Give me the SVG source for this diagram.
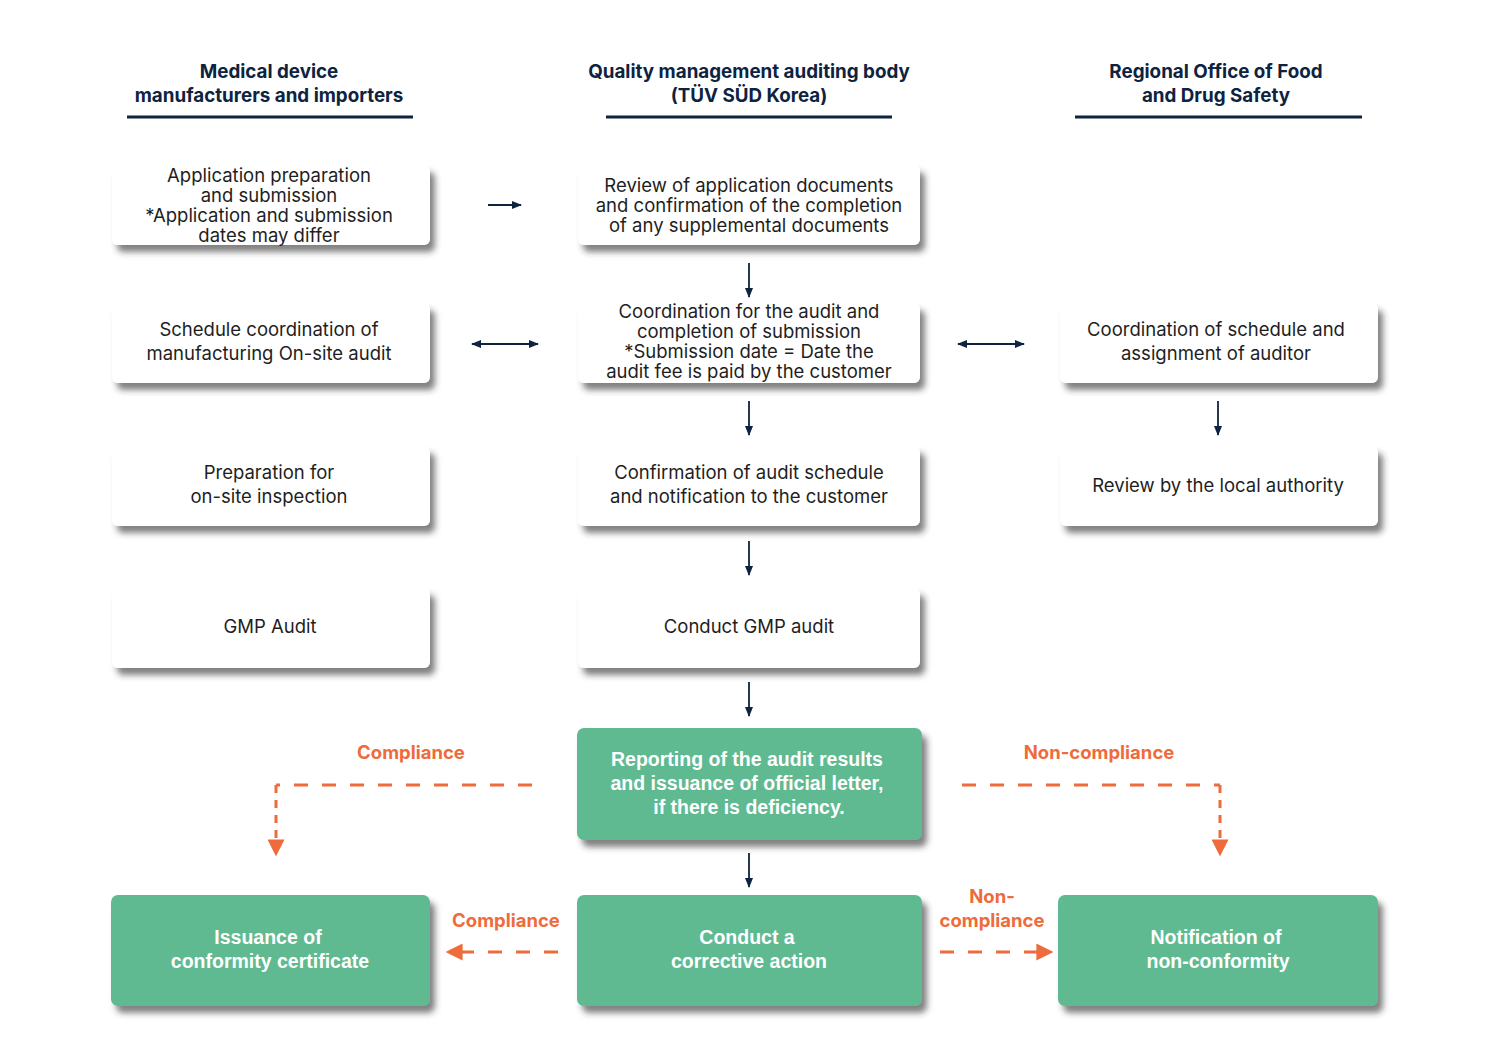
<svg xmlns="http://www.w3.org/2000/svg" width="1489" height="1050" viewBox="0 0 1489 1050">
<defs>
<filter id="sh" x="-10%" y="-20%" width="125%" height="150%">
<feDropShadow dx="5" dy="7" stdDeviation="3" flood-color="#2e2e2e" flood-opacity="0.6"/>
</filter>
<marker id="ah" viewBox="0 0 10 10" refX="9" refY="5" markerWidth="10" markerHeight="10" markerUnits="userSpaceOnUse" orient="auto-start-reverse">
<path d="M0,1 L10,5 L0,9 Z" fill="#0d2340"/>
</marker>
<marker id="oh" viewBox="0 0 10 10" refX="8" refY="5" markerWidth="17" markerHeight="17" markerUnits="userSpaceOnUse" orient="auto-start-reverse">
<path d="M0,0 L10,5 L0,10 Z" fill="#ee6b3c"/>
</marker>
</defs>
<style>
.hd{font-family:"Inter","Liberation Sans",sans-serif;font-weight:700;font-size:18.8px;fill:#0d2340;text-anchor:middle}
.ul{stroke:#0d2340;stroke-width:3}
.wb{fill:#ffffff;filter:url(#sh)}
.gb{fill:#5eba91;filter:url(#sh)}
.t{font-family:"Inter","Liberation Sans",sans-serif;font-size:18.5px;fill:#1e1e1e;text-anchor:middle}
.gt{font-family:"Liberation Sans",sans-serif;font-weight:700;font-size:19.5px;fill:#ffffff;text-anchor:middle}
.ol{font-family:"Inter","Liberation Sans",sans-serif;font-weight:700;font-size:18.5px;fill:#ee6b3c;text-anchor:middle}
.c{stroke:#0d2340;stroke-width:1.8;fill:none}
.d{stroke:#ee6b3c;stroke-width:3;fill:none;stroke-dasharray:14 14}
.dv{stroke:#ee6b3c;stroke-width:3;fill:none;stroke-dasharray:8 7}
</style>
<rect width="1489" height="1050" fill="#ffffff"/>

<g id="headers">
<text class="hd" x="269" y="78">Medical device</text>
<text class="hd" x="269" y="102">manufacturers and importers</text>
<line class="ul" x1="127" y1="117" x2="413" y2="117"/>
<text class="hd" x="749" y="78">Quality management auditing body</text>
<text class="hd" x="749" y="102">(TÜV SÜD Korea)</text>
<line class="ul" x1="606" y1="117" x2="892" y2="117"/>
<text class="hd" x="1216" y="78">Regional Office of Food</text>
<text class="hd" x="1216" y="102">and Drug Safety</text>
<line class="ul" x1="1075" y1="117" x2="1362" y2="117"/>
</g>

<g id="n_app">
<rect class="wb" x="112" y="165" width="318" height="80" rx="6"/>
<text class="t" x="269" y="182">Application preparation</text>
<text class="t" x="269" y="202">and submission</text>
<text class="t" x="269" y="222">*Application and submission</text>
<text class="t" x="269" y="242">dates may differ</text>
</g>
<g id="n_review">
<rect class="wb" x="578" y="165" width="342" height="80" rx="6"/>
<text class="t" x="749" y="192">Review of application documents</text>
<text class="t" x="749" y="212">and confirmation of the completion</text>
<text class="t" x="749" y="232">of any supplemental documents</text>
</g>
<g id="n_sched">
<rect class="wb" x="112" y="303" width="318" height="80" rx="6"/>
<text class="t" x="269" y="336">Schedule coordination of</text>
<text class="t" x="269" y="360">manufacturing On-site audit</text>
</g>
<g id="n_coord">
<rect class="wb" x="578" y="303" width="342" height="80" rx="6"/>
<text class="t" x="749" y="318">Coordination for the audit and</text>
<text class="t" x="749" y="338">completion of submission</text>
<text class="t" x="749" y="358">*Submission date = Date the</text>
<text class="t" x="749" y="378">audit fee is paid by the customer</text>
</g>
<g id="n_assign">
<rect class="wb" x="1060" y="303" width="318" height="80" rx="6"/>
<text class="t" x="1216" y="336">Coordination of schedule and</text>
<text class="t" x="1216" y="360">assignment of auditor</text>
</g>
<g id="n_prep">
<rect class="wb" x="112" y="446" width="318" height="80" rx="6"/>
<text class="t" x="269" y="479">Preparation for</text>
<text class="t" x="269" y="503">on-site inspection</text>
</g>
<g id="n_confirm">
<rect class="wb" x="578" y="446" width="342" height="80" rx="6"/>
<text class="t" x="749" y="479">Confirmation of audit schedule</text>
<text class="t" x="749" y="503">and notification to the customer</text>
</g>
<g id="n_local">
<rect class="wb" x="1060" y="446" width="318" height="80" rx="6"/>
<text class="t" x="1218" y="492">Review by the local authority</text>
</g>
<g id="n_gmp">
<rect class="wb" x="112" y="588" width="318" height="80" rx="6"/>
<text class="t" x="270" y="633">GMP Audit</text>
</g>
<g id="n_conduct">
<rect class="wb" x="578" y="588" width="342" height="80" rx="6"/>
<text class="t" x="749" y="633">Conduct GMP audit</text>
</g>
<g id="n_report">
<rect class="gb" x="577" y="728" width="345" height="112" rx="7"/>
<text class="gt" x="747" y="766">Reporting of the audit results</text>
<text class="gt" x="747" y="790">and issuance of official letter,</text>
<text class="gt" x="749" y="814">if there is deficiency.</text>
</g>
<g id="n_issue">
<rect class="gb" x="111" y="895" width="319" height="111" rx="7"/>
<text class="gt" x="268" y="944">Issuance of</text>
<text class="gt" x="270" y="968">conformity certificate</text>
</g>
<g id="n_corrective">
<rect class="gb" x="577" y="895" width="345" height="111" rx="7"/>
<text class="gt" x="747" y="944">Conduct a</text>
<text class="gt" x="749" y="968">corrective action</text>
</g>
<g id="n_notify">
<rect class="gb" x="1058" y="895" width="320" height="111" rx="7"/>
<text class="gt" x="1216" y="944">Notification of</text>
<text class="gt" x="1218" y="968">non-conformity</text>
</g>

<g id="connectors">
<line class="c" x1="488" y1="205" x2="521" y2="205" marker-end="url(#ah)"/>
<line class="c" x1="472" y1="344" x2="538" y2="344" marker-start="url(#ah)" marker-end="url(#ah)"/>
<line class="c" x1="958" y1="344" x2="1024" y2="344" marker-start="url(#ah)" marker-end="url(#ah)"/>
<line class="c" x1="749" y1="263" x2="749" y2="297" marker-end="url(#ah)"/>
<line class="c" x1="749" y1="401" x2="749" y2="435" marker-end="url(#ah)"/>
<line class="c" x1="1218" y1="401" x2="1218" y2="435" marker-end="url(#ah)"/>
<line class="c" x1="749" y1="541" x2="749" y2="575" marker-end="url(#ah)"/>
<line class="c" x1="749" y1="682" x2="749" y2="716" marker-end="url(#ah)"/>
<line class="c" x1="749" y1="853" x2="749" y2="887" marker-end="url(#ah)"/>

<path class="d" d="M532,785 H276"/>
<path class="dv" d="M276,785 V853" marker-end="url(#oh)"/>
<path class="d" d="M962,785 H1220"/>
<path class="dv" d="M1220,785 V853" marker-end="url(#oh)"/>
<line class="d" x1="558" y1="952" x2="449" y2="952" marker-end="url(#oh)"/>
<line class="d" x1="940" y1="952" x2="1050" y2="952" marker-end="url(#oh)"/>
<text class="ol" x="411" y="759">Compliance</text>
<text class="ol" x="1099" y="759">Non-compliance</text>
<text class="ol" x="506" y="927">Compliance</text>
<text class="ol" x="992" y="903">Non-</text>
<text class="ol" x="992" y="927">compliance</text>
</g>
</svg>
